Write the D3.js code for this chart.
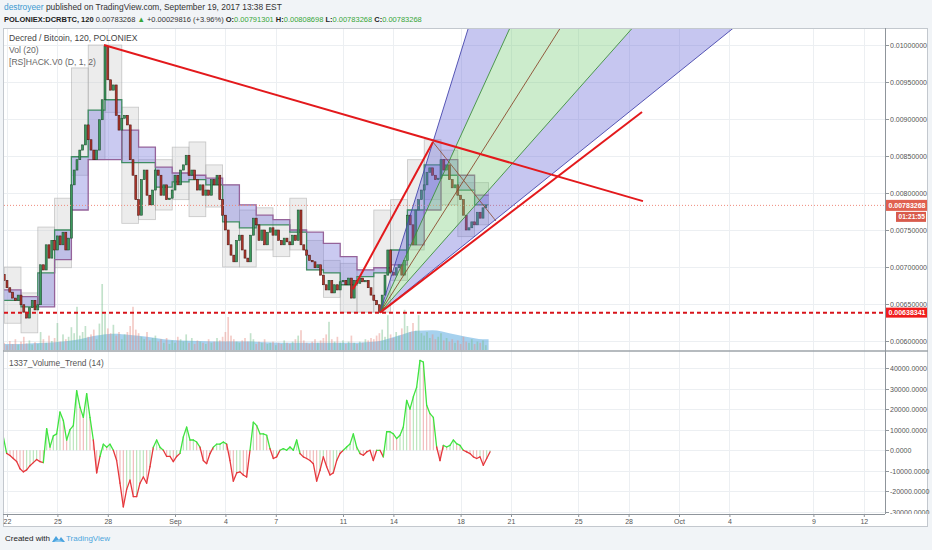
<!DOCTYPE html>
<html>
<head>
<meta charset="utf-8">
<script src="https://cdnjs.cloudflare.com/ajax/libs/d3/7.8.5/d3.min.js"></script>
<style>
  body { margin: 0; background: #f1f4f7; }
  svg text { font-family: "Liberation Sans", Arial, sans-serif; }
</style>
</head>
<body>
<div id="chart"></div>
<script>
// ---- data ----
// 4h candles starting Aug 21 20:00 (EST shifted session)
const candleStart = "2017-08-21T20:00:00Z";
const candleHours = 4;
const firstOpen = 0.00690;
const closes = [
  0.00682, 0.00672, 0.00666, 0.00658, 0.00655, 0.00662,
  0.00649, 0.00639, 0.00631, 0.00645, 0.00655, 0.00642,
  0.00649, 0.00703, 0.00696, 0.00730, 0.00712, 0.00736,
  0.00723, 0.00742, 0.00730, 0.00747, 0.00723, 0.00739,
  0.00811, 0.00831, 0.00845, 0.00858, 0.00865, 0.00892,
  0.00872, 0.00858, 0.00845, 0.00858, 0.00899, 0.00926,
  0.00998, 0.00953, 0.00939, 0.00946, 0.00905, 0.00885,
  0.00901, 0.00905, 0.00892, 0.00845, 0.00824, 0.00791,
  0.00770, 0.00818, 0.00831, 0.00797, 0.00784, 0.00804,
  0.00831, 0.00824, 0.00797, 0.00811, 0.00791, 0.00793,
  0.00804, 0.00824, 0.00811, 0.00831, 0.00838, 0.00851,
  0.00824, 0.00831, 0.00818, 0.00804, 0.00811, 0.00797,
  0.00804, 0.00797, 0.00818, 0.00811, 0.00824, 0.00791,
  0.00770, 0.00750, 0.00730, 0.00716, 0.00707, 0.00736,
  0.00743, 0.00723, 0.00712, 0.00707, 0.00743, 0.00766,
  0.00757, 0.00736, 0.00750, 0.00730, 0.00747, 0.00753,
  0.00743, 0.00750, 0.00736, 0.00730, 0.00739, 0.00734,
  0.00730, 0.00743, 0.00736, 0.00777, 0.00730, 0.00723,
  0.00716, 0.00709, 0.00707, 0.00699, 0.00703, 0.00689,
  0.00676, 0.00669, 0.00682, 0.00665, 0.00676, 0.00669,
  0.00680, 0.00682, 0.00676, 0.00685, 0.00658, 0.00682,
  0.00678, 0.00685, 0.00680, 0.00682, 0.00672, 0.00662,
  0.00655, 0.00649, 0.00640, 0.00662, 0.00689, 0.00723,
  0.00693, 0.00689, 0.00699, 0.00703, 0.00689, 0.00709,
  0.00770, 0.00757, 0.00730, 0.00777, 0.00791, 0.00804,
  0.00811, 0.00828, 0.00834, 0.00824, 0.00818, 0.00820,
  0.00845, 0.00831, 0.00838, 0.00818, 0.00807, 0.00811,
  0.00797, 0.00791, 0.00770, 0.00750, 0.00753, 0.00761,
  0.00757, 0.00774, 0.00766, 0.00780, 0.00783268
];
const volumes = [
  12, 8, 15, 10, 18, 9,   14, 22, 11, 16, 9, 13,   10, 30, 18, 12, 24, 15,
  20, 45, 14, 26, 18, 22,  38, 28, 72, 24, 30, 40,  22, 26, 34, 18, 44, 110,
  60, 36, 28, 42, 24, 30,  18, 26, 30, 40, 72, 34,  28, 22, 18, 30, 16, 20,
  24, 14, 18, 12, 20, 10,  16, 12, 22, 18, 14, 26,  12, 20, 10, 16, 14, 12,
  10, 18, 12, 14, 20, 16,  22, 30, 55, 24, 18, 14,  12, 16, 20, 14, 28, 18,
  10, 14, 12, 18, 10, 12,  14, 8, 12, 10, 16, 12,   10, 14, 18, 24, 33, 16,
  12, 10, 14, 18, 12, 16,  20, 26, 47, 18, 14, 22,  12, 16, 10, 14, 24, 12,
  10, 14, 12, 18, 16, 20,  18, 24, 28, 34, 22, 58,  26, 20, 30, 24, 36, 67,
  40, 30, 45, 32, 58, 28,  24, 30, 20, 26, 18, 22,  28, 16, 20, 14, 18, 12,
  16, 10, 22, 14, 12, 18,  10, 14, 12, 16, 8
];
// Vol (20) average, one value per session day
const volMA = [10, 11, 12, 14, 18, 24, 27, 25, 22, 18, 16, 15, 14, 14, 14,
  13, 12, 12, 12, 12, 12, 13, 16, 24, 32, 33, 28, 22, 18];

// [RS]HACK.V0 daily boxes and band
const dayStart = "2017-08-21T20:00:00Z";
const boxHigh = [0.00700, 0.00665, 0.00754, 0.00793, 0.00969, 0.01000, 0.01000, 0.00916,
  0.00845, 0.00845, 0.00862, 0.00869, 0.00838, 0.00811, 0.00777, 0.00780, 0.00764,
  0.00793, 0.00736, 0.00709, 0.00705, 0.00696, 0.00777, 0.00791, 0.00845, 0.00872,
  0.00858, 0.00814, 0.00814];
const boxLow = [0.00624, 0.00611, 0.00649, 0.00699, 0.00824, 0.00845, 0.00909, 0.00759,
  0.00764, 0.00777, 0.00791, 0.00768, 0.00781, 0.00700, 0.00700, 0.00723, 0.00714,
  0.00723, 0.00696, 0.00659, 0.00639, 0.00639, 0.00639, 0.00682, 0.00723, 0.00791,
  0.00784, 0.00741, 0.00757];
const hackA = [0.00655, 0.00646, 0.00692, 0.00750, 0.00849, 0.00912, 0.00926, 0.00841,
  0.00841, 0.00808, 0.00815, 0.00818, 0.00811, 0.00761, 0.00753, 0.00757, 0.00757,
  0.00747, 0.00696, 0.00692, 0.00676, 0.00687, 0.00692, 0.00723, 0.00777, 0.00838,
  0.00824, 0.00804, 0.00784];
const hackB = [0.00669, 0.00660, 0.00646, 0.00710, 0.00777, 0.00845, 0.00845, 0.00885,
  0.00862, 0.00835, 0.00827, 0.00824, 0.00820, 0.00811, 0.00784, 0.00770, 0.00764,
  0.00750, 0.00747, 0.00732, 0.00714, 0.00696, 0.00699, 0.00703, 0.00730, 0.00777,
  0.00845, 0.00824, 0.00797];

// 1337_Volume_Trend (14)
const trendStart = "2017-08-21T18:45:00Z";
const trendEnd = "2017-09-19T18:00:00Z";
const trendValues = [
  6500, -1500, -2500, -4000, -5500, -9000, -10500, -9500, -7500, -6000,
  -4500, -5500, -6000, 10500, 1600, 7000, 8000, 18600, 14500, 5000,
  10000, 12000, 29000, 21000, 16000, 27500, 16000, 5000, -11000, -3000,
  3000, 1500, 3000, 0, -5000, -16000, -27500, -19000, -14500, -22500,
  -22500, -16000, -13000, -16000, -8000, 1500, 5000, 1500, 0, -3000,
  -3000, -5500, -3000, -1500, 6500, 11300, 5000, 5000, 4000, 1500,
  -5000, -6500, -1600, 1500, 3000, 3000, 4000, 3000, -5000, -15000,
  -11000, -10500, -12000, -13000, 0, 13700, 12000, 8000, 8000, 7300,
  800, -4000, -3200, 0, 800, 0, 1600, 0, 5000, -1600,
  -3200, -4000, -5000, -6500, -15000, -9700, -3200, -8000, -12000, -11000,
  -5000, -1600, 0, 1600, 3000, 8000, 1600, -1600, -2400, -800,
  0, -5000, 0, 0, -3200, 9000, 9000, 8000, 5700, 7300,
  11300, 24300, 20000, 26000, 30700, 43700, 42900, 21900, 17800, 16000,
  1600, -5000, 2400, 1600, 2400, 5000, 3200, 2400, 0, -800,
  -1600, -3200, -4000, -3200, -7300, -4000, -800
];

// axes
const xTickDates = ["2017-08-22", "2017-08-25", "2017-08-28", "2017-09-01", "2017-09-04",
  "2017-09-07", "2017-09-11", "2017-09-14", "2017-09-18", "2017-09-21", "2017-09-25",
  "2017-09-28", "2017-10-01", "2017-10-04", "2017-10-09", "2017-10-12"];
const xTickLabels = ["22", "25", "28", "Sep", "4", "7", "11", "14", "18", "21", "25",
  "28", "Oct", "4", "9", "12"];
const priceTicks = [0.0060, 0.0065, 0.0070, 0.0075, 0.0080, 0.0085, 0.0090, 0.0095, 0.0100];
const trendTicks = [-30000, -20000, -10000, 0, 10000, 20000, 30000, 40000];

// last price / countdown / horizontal support line
const lastPrice = 0.00783268;
const countdown = "01:21:55";
const supportPrice = 0.00638341;

// drawings: fan and trend lines (time, price)
const fanOrigin = { t: "2017-09-13T04:50:00Z", p: 0.00638341 };
const fanAnchor = { t: "2017-09-16T08:30:00Z", p: 0.008689 };
const fanLevels = [1, 0.68, 0.49, 0.35, 0.25];
const fanDiagonalEnd = { t: "2017-09-20T02:30:00Z", p: 0.007622 };
const redLines = [
  ["2017-08-27T18:30:00Z", 0.01000, "2017-09-28T20:30:00Z", 0.00789],
  ["2017-09-13T04:50:00Z", 0.00638341, "2017-09-28T19:10:00Z", 0.009095],
  ["2017-09-11T14:15:00Z", 0.00670, "2017-09-16T08:30:00Z", 0.008689]
];

// ---- layout ----
const W = 932, H = 550;
const left = 4, right = 885;
const priceTop = 28, priceBottom = 350, lowTop = 352, lowBottom = 514;

const svg = d3.select("#chart").append("svg")
  .attr("width", W).attr("height", H);

const x = d3.scaleUtc()
  .domain([new Date("2017-08-22T00:00:00Z"), new Date("2017-10-12T00:00:00Z")])
  .range([7, 863.8]);
const y = d3.scaleLinear().domain([0.006, 0.010]).range([341, 45]);
const yVol = d3.scaleLinear().domain([0, 100]).range([priceBottom, 290]);
const yTrend = d3.scaleLinear().domain([-30000, 40000]).range([512, 368]);

// header
const h1 = svg.append("text").attr("x", 4).attr("y", 10).attr("font-size", 8.4);
h1.append("tspan").attr("fill", "#3d9ad1").text("destroyeer");
h1.append("tspan").attr("fill", "#333").text(" published on TradingView.com, September 19, 2017 13:38 EST");

const h2 = svg.append("text").attr("x", 4).attr("y", 22).attr("font-size", 7.5).attr("fill", "#333");
h2.append("tspan").attr("font-weight", "bold").attr("fill", "#222").text("POLONIEX:DCRBTC, 120");
h2.append("tspan").text(" " + lastPrice.toFixed(8) + " ");
h2.append("tspan").attr("fill", "#37a537").text("▲");
h2.append("tspan").text(" +0.00029816 (+3.96%) ");
[["O:", 0.00791301], ["H:", 0.00808698], ["L:", 0.00783268], ["C:", 0.00783268]].forEach(([k, v], i) => {
  h2.append("tspan").attr("font-weight", "bold").attr("fill", "#222").text((i ? " " : "") + k);
  h2.append("tspan").attr("fill", "#37a537").text(v.toFixed(8));
});

// chart frame
svg.append("rect")
  .attr("x", 3.5).attr("y", priceTop + 0.5)
  .attr("width", 924).attr("height", 498)
  .attr("fill", "#fff").attr("stroke", "#c3c8ce");

// clip paths
const defs = svg.append("defs");
defs.append("clipPath").attr("id", "clipPrice").append("rect")
  .attr("x", left).attr("y", priceTop + 1).attr("width", right - left).attr("height", priceBottom - priceTop - 1);
defs.append("clipPath").attr("id", "clipLow").append("rect")
  .attr("x", left).attr("y", lowTop).attr("width", right - left).attr("height", lowBottom - lowTop);
defs.append("clipPath").attr("id", "clipLowAxis").append("rect")
  .attr("x", right).attr("y", lowTop).attr("width", 45).attr("height", lowBottom - lowTop);

// grid
const grid = svg.append("g").attr("stroke", "#eceff2").attr("stroke-width", 1);
xTickDates.forEach(d => {
  const gx = Math.round(x(new Date(d + "T00:00:00Z"))) + 0.5;
  grid.append("line").attr("x1", gx).attr("x2", gx).attr("y1", priceTop + 1).attr("y2", lowBottom);
});
priceTicks.forEach(p => {
  const gy = Math.round(y(p)) + 0.5;
  grid.append("line").attr("x1", left).attr("x2", right).attr("y1", gy).attr("y2", gy);
});
trendTicks.forEach(v => {
  const gy = Math.round(yTrend(v)) + 0.5;
  grid.append("line").attr("x1", left).attr("x2", right).attr("y1", gy).attr("y2", gy);
});

// ---- price pane ----
const t0 = new Date(candleStart);
const candles = closes.map((c, i) => ({
  t: d3.utcHour.offset(t0, i * candleHours),
  o: i ? closes[i - 1] : firstOpen,
  c: c,
  v: volumes[i]
}));
const lastEnd = d3.utcHour.offset(candles[candles.length - 1].t, candleHours);
const slot = x(d3.utcHour.offset(t0, candleHours)) - x(t0);

const pane = svg.append("g").attr("clip-path", "url(#clipPrice)");

// volume average area
const d0 = new Date(dayStart);
const maPts = volMA.map((v, i) => ({ t: d3.utcHour.offset(d0, i * 24 + 12), v }));
maPts.unshift({ t: t0, v: volMA[0] });
maPts.push({ t: lastEnd, v: volMA[volMA.length - 1] });
pane.append("path")
  .datum(maPts)
  .attr("fill", "rgba(92,172,224,0.55)")
  .attr("d", d3.area().curve(d3.curveMonotoneX)
    .x(d => x(d.t)).y0(priceBottom).y1(d => yVol(d.v)));

// volume bars
pane.append("g").selectAll("rect").data(candles).enter().append("rect")
  .attr("x", d => x(d.t) - slot * 0.3)
  .attr("width", slot * 0.6)
  .attr("y", d => yVol(d.v))
  .attr("height", d => priceBottom - yVol(d.v))
  .attr("fill", d => d.c >= d.o ? "rgba(120,190,140,0.45)" : "rgba(230,140,130,0.45)");

// HACK daily boxes
const days = boxHigh.map((hi, i) => {
  const ds = d3.utcHour.offset(d0, i * 24);
  const de = d3.utcHour.offset(d0, (i + 1) * 24);
  return { ds, de: de > lastEnd ? lastEnd : de, hi, lo: boxLow[i], a: hackA[i], b: hackB[i] };
});
pane.append("g").selectAll("rect").data(days).enter().append("rect")
  .attr("x", d => x(d.ds))
  .attr("width", d => x(d.de) - x(d.ds))
  .attr("y", d => y(d.hi))
  .attr("height", d => y(d.lo) - y(d.hi))
  .attr("fill", "rgba(205,205,205,0.38)")
  .attr("stroke", "rgba(160,160,160,0.55)")
  .attr("stroke-width", 0.8);

// HACK band (step)
const band = days.map(d => ({ t: d.ds, a: d.a, b: d.b }));
band.push({ t: lastEnd, a: hackA[hackA.length - 1], b: hackB[hackB.length - 1] });
pane.append("path").datum(band)
  .attr("fill", "rgba(128,128,222,0.42)")
  .attr("d", d3.area().curve(d3.curveStepAfter).x(d => x(d.t)).y0(d => y(d.a)).y1(d => y(d.b)));
pane.append("path").datum(band)
  .attr("fill", "none").attr("stroke", "#3f8c62").attr("stroke-width", 1.3)
  .attr("d", d3.line().curve(d3.curveStepAfter).x(d => x(d.t)).y(d => y(d.a)));
pane.append("path").datum(band)
  .attr("fill", "none").attr("stroke", "#95639a").attr("stroke-width", 1.3)
  .attr("d", d3.line().curve(d3.curveStepAfter).x(d => x(d.t)).y(d => y(d.b)));

// candles
pane.append("g").selectAll("rect").data(candles).enter().append("rect")
  .attr("x", d => x(d.t) - slot * 0.35)
  .attr("width", slot * 0.7)
  .attr("y", d => y(Math.max(d.o, d.c)))
  .attr("height", d => Math.max(1, Math.abs(y(d.o) - y(d.c))))
  .attr("fill", d => d.c >= d.o ? "#3b9a5c" : "#b3372c")
  .attr("stroke", d => d.c >= d.o ? "#1f4d30" : "#4d1612")
  .attr("stroke-width", 0.6);

// last price dotted line
pane.append("line")
  .attr("x1", left).attr("x2", right)
  .attr("y1", y(lastPrice)).attr("y2", y(lastPrice))
  .attr("stroke", "#ef8a7c").attr("stroke-width", 1).attr("stroke-dasharray", "1,2");

// fan
const fo = { t: new Date(fanOrigin.t), p: fanOrigin.p };
const fa = { t: new Date(fanAnchor.t), p: fanAnchor.p };
const tFar = new Date("2017-10-12T00:00:00Z");
const farFrac = (tFar - fo.t) / (fa.t - fo.t);
const fanEnds = fanLevels.map(l => [x(tFar), y(fo.p + l * (fa.p - fo.p) * farFrac)]);
const fanO = [x(fo.t), y(fo.p)];
const fanFills = ["rgba(105,105,215,0.38)", "rgba(120,205,120,0.38)", "rgba(120,205,120,0.38)", "rgba(105,105,215,0.38)"];
const fanColors = ["#4545ad", "#3d8f3d", "#8a4a2c", "#3d8f3d", "#4545ad"];
fanFills.forEach((f, i) => {
  pane.append("path")
    .attr("d", d3.line()([fanO, fanEnds[i], fanEnds[i + 1]]) + "Z")
    .attr("fill", f);
});
fanEnds.forEach((e, i) => {
  pane.append("line")
    .attr("x1", fanO[0]).attr("y1", fanO[1]).attr("x2", e[0]).attr("y2", e[1])
    .attr("stroke", fanColors[i]).attr("stroke-width", 0.9);
});
pane.append("line")
  .attr("x1", x(fa.t)).attr("y1", y(fa.p))
  .attr("x2", x(new Date(fanDiagonalEnd.t))).attr("y2", y(fanDiagonalEnd.p))
  .attr("stroke", "#8a4a2c").attr("stroke-width", 0.8);

// red trend lines
redLines.forEach(([ta, pa, tb, pb]) => {
  pane.append("line")
    .attr("x1", x(new Date(ta))).attr("y1", y(pa))
    .attr("x2", x(new Date(tb))).attr("y2", y(pb))
    .attr("stroke", "#e3191c").attr("stroke-width", 2);
});

// horizontal support
pane.append("line")
  .attr("x1", left).attr("x2", right)
  .attr("y1", y(supportPrice)).attr("y2", y(supportPrice))
  .attr("stroke", "#d8141b").attr("stroke-width", 2).attr("stroke-dasharray", "4,3");

// legends
svg.append("text").attr("x", 9).attr("y", 41).attr("font-size", 8.6).attr("fill", "#444")
  .text("Decred / Bitcoin, 120, POLONIEX");
svg.append("text").attr("x", 9).attr("y", 53).attr("font-size", 8.6).attr("fill", "#666").text("Vol (20)");
svg.append("text").attr("x", 9).attr("y", 64.5).attr("font-size", 8.6).attr("fill", "#666")
  .text("[RS]HACK.V0 (D, 1, 2)");

// ---- lower pane ----
const low = svg.append("g").attr("clip-path", "url(#clipLow)");
const tx = d3.scaleLinear().domain([0, trendValues.length - 1])
  .range([new Date(trendStart).getTime(), new Date(trendEnd).getTime()]);
const trend = trendValues.map((v, i) => ({ t: new Date(tx(i)), v }));

low.append("g").selectAll("line").data(trend).enter().append("line")
  .attr("x1", d => x(d.t)).attr("x2", d => x(d.t))
  .attr("y1", yTrend(0)).attr("y2", d => yTrend(d.v))
  .attr("stroke", (d, i) => (i && d.v < trendValues[i - 1]) ? "rgba(225,110,110,0.5)" : "rgba(110,200,110,0.5)")
  .attr("stroke-width", 1.1);

d3.pairs(trend).forEach(([a, b]) => {
  low.append("line")
    .attr("x1", x(a.t)).attr("y1", yTrend(a.v))
    .attr("x2", x(b.t)).attr("y2", yTrend(b.v))
    .attr("stroke", (a.v + b.v) / 2 >= 0 ? "#3fe43f" : "#e6373c")
    .attr("stroke-width", 1.3)
    .attr("stroke-linecap", "round");
});

svg.append("text").attr("x", 9).attr("y", 366).attr("font-size", 8.4).attr("fill", "#555")
  .text("1337_Volume_Trend (14)");

// pane separator
svg.append("line").attr("x1", 3).attr("x2", 928).attr("y1", 351).attr("y2", 351)
  .attr("stroke", "#9ea4aa").attr("stroke-width", 1.4);

// ---- right axes ----
svg.append("line").attr("x1", right + 0.5).attr("x2", right + 0.5)
  .attr("y1", priceTop).attr("y2", lowBottom).attr("stroke", "#8f959b");

const pAxis = svg.append("g");
priceTicks.forEach(p => {
  const ty = Math.round(y(p)) + 0.5;
  pAxis.append("line").attr("x1", right).attr("x2", right + 4).attr("y1", ty).attr("y2", ty).attr("stroke", "#8f959b");
  pAxis.append("text").attr("x", right + 5).attr("y", ty).attr("dy", "0.35em")
    .attr("font-size", 7).attr("fill", "#555").text(p.toFixed(8));
});
const lAxis = svg.append("g").attr("clip-path", "url(#clipLowAxis)");
trendTicks.forEach(v => {
  const ty = Math.round(yTrend(v)) + 0.5;
  lAxis.append("line").attr("x1", right).attr("x2", right + 4).attr("y1", ty).attr("y2", ty).attr("stroke", "#8f959b");
  lAxis.append("text").attr("x", right + 5).attr("y", ty).attr("dy", "0.35em")
    .attr("font-size", 7).attr("fill", "#555").text(v.toFixed(4));
});

// price labels on axis
function axisBox(yc, txt, fill, x0, w, h, fs) {
  svg.append("rect").attr("x", x0).attr("y", yc - h / 2).attr("width", w).attr("height", h).attr("fill", fill);
  svg.append("text").attr("x", x0 + 2.5).attr("y", yc).attr("dy", "0.35em")
    .attr("font-size", fs).attr("font-weight", "bold").attr("fill", "#fff").text(txt);
}
axisBox(y(lastPrice), lastPrice.toFixed(8), "#e0604f", right + 1, 41, 11, 7);
axisBox(y(lastPrice) + 11.5, countdown, "#d85b4c", right + 11, 30, 10, 6.6);
axisBox(y(supportPrice), supportPrice.toFixed(8), "#f01c1c", right + 1, 41, 10, 7);

// ---- x axis ----
svg.append("line").attr("x1", 3).attr("x2", right).attr("y1", lowBottom + 0.5).attr("y2", lowBottom + 0.5)
  .attr("stroke", "#8f959b");
const xAxis = svg.append("g")
  .attr("transform", `translate(0,${lowBottom})`)
  .call(d3.axisBottom(x)
    .tickValues(xTickDates.map(d => new Date(d + "T00:00:00Z")))
    .tickFormat((d, i) => xTickLabels[i])
    .tickSize(3));
xAxis.select(".domain").remove();
xAxis.selectAll("line").attr("stroke", "#8f959b");
xAxis.selectAll("text").attr("font-size", 7).attr("fill", "#555").attr("dy", "0.6em");

// ---- footer ----
svg.append("text").attr("x", 5).attr("y", 541).attr("font-size", 8).attr("fill", "#222").text("Created with");
const logo = svg.append("g").attr("transform", "translate(52,534)").attr("fill", "#4aa3df");
logo.append("path").attr("d", "M0,8 L4,2 L7,6 L9,3 L13,8 Z");
logo.append("path").attr("d", "M2,8 Q6,4 11,8 Z").attr("fill", "#8fc9ee");
svg.append("text").attr("x", 66).attr("y", 541).attr("font-size", 8).attr("fill", "#4ea6dd").text("TradingView");
</script>
</body>
</html>
